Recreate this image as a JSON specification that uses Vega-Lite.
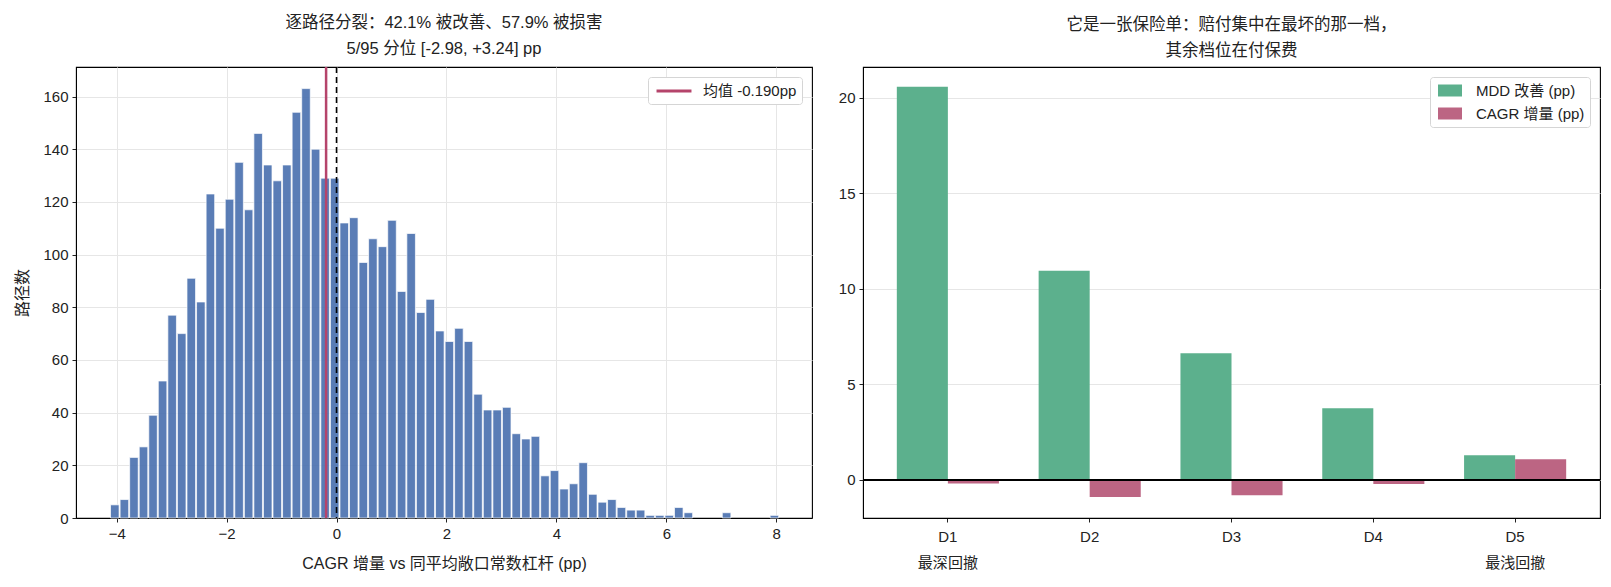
{
  "$schema": "https://vega.github.io/schema/vega-lite/v6.json",
  "description": "Per-path CAGR delta histogram and drawdown-decile insurance bars",
  "padding": {"left": 14, "top": 14, "right": 8, "bottom": 0},
  "spacing": 24,
  "datasets": {
    "hist": [
      {"bin_start": -4.130, "bin_end": -3.956, "count": 5},
      {"bin_start": -3.956, "bin_end": -3.782, "count": 7},
      {"bin_start": -3.782, "bin_end": -3.608, "count": 23},
      {"bin_start": -3.608, "bin_end": -3.434, "count": 27},
      {"bin_start": -3.434, "bin_end": -3.261, "count": 39},
      {"bin_start": -3.261, "bin_end": -3.087, "count": 52},
      {"bin_start": -3.087, "bin_end": -2.913, "count": 77},
      {"bin_start": -2.913, "bin_end": -2.739, "count": 70},
      {"bin_start": -2.739, "bin_end": -2.565, "count": 91},
      {"bin_start": -2.565, "bin_end": -2.391, "count": 82},
      {"bin_start": -2.391, "bin_end": -2.217, "count": 123},
      {"bin_start": -2.217, "bin_end": -2.043, "count": 110},
      {"bin_start": -2.043, "bin_end": -1.869, "count": 121},
      {"bin_start": -1.869, "bin_end": -1.695, "count": 135},
      {"bin_start": -1.695, "bin_end": -1.522, "count": 117},
      {"bin_start": -1.522, "bin_end": -1.348, "count": 146},
      {"bin_start": -1.348, "bin_end": -1.174, "count": 134},
      {"bin_start": -1.174, "bin_end": -1.000, "count": 128},
      {"bin_start": -1.000, "bin_end": -0.826, "count": 134},
      {"bin_start": -0.826, "bin_end": -0.652, "count": 154},
      {"bin_start": -0.652, "bin_end": -0.478, "count": 163},
      {"bin_start": -0.478, "bin_end": -0.304, "count": 140},
      {"bin_start": -0.304, "bin_end": -0.130, "count": 129},
      {"bin_start": -0.130, "bin_end": 0.044, "count": 129},
      {"bin_start": 0.044, "bin_end": 0.218, "count": 112},
      {"bin_start": 0.218, "bin_end": 0.391, "count": 114},
      {"bin_start": 0.391, "bin_end": 0.565, "count": 97},
      {"bin_start": 0.565, "bin_end": 0.739, "count": 106},
      {"bin_start": 0.739, "bin_end": 0.913, "count": 103},
      {"bin_start": 0.913, "bin_end": 1.087, "count": 113},
      {"bin_start": 1.087, "bin_end": 1.261, "count": 86},
      {"bin_start": 1.261, "bin_end": 1.435, "count": 108},
      {"bin_start": 1.435, "bin_end": 1.609, "count": 78},
      {"bin_start": 1.609, "bin_end": 1.783, "count": 83},
      {"bin_start": 1.783, "bin_end": 1.957, "count": 71},
      {"bin_start": 1.957, "bin_end": 2.130, "count": 67},
      {"bin_start": 2.130, "bin_end": 2.304, "count": 72},
      {"bin_start": 2.304, "bin_end": 2.478, "count": 67},
      {"bin_start": 2.478, "bin_end": 2.652, "count": 47},
      {"bin_start": 2.652, "bin_end": 2.826, "count": 41},
      {"bin_start": 2.826, "bin_end": 3.000, "count": 41},
      {"bin_start": 3.000, "bin_end": 3.174, "count": 42},
      {"bin_start": 3.174, "bin_end": 3.348, "count": 32},
      {"bin_start": 3.348, "bin_end": 3.522, "count": 30},
      {"bin_start": 3.522, "bin_end": 3.696, "count": 31},
      {"bin_start": 3.696, "bin_end": 3.870, "count": 16},
      {"bin_start": 3.870, "bin_end": 4.043, "count": 18},
      {"bin_start": 4.043, "bin_end": 4.217, "count": 11},
      {"bin_start": 4.217, "bin_end": 4.391, "count": 13},
      {"bin_start": 4.391, "bin_end": 4.565, "count": 21},
      {"bin_start": 4.565, "bin_end": 4.739, "count": 9},
      {"bin_start": 4.739, "bin_end": 4.913, "count": 6},
      {"bin_start": 4.913, "bin_end": 5.087, "count": 7},
      {"bin_start": 5.087, "bin_end": 5.261, "count": 4},
      {"bin_start": 5.261, "bin_end": 5.435, "count": 3},
      {"bin_start": 5.435, "bin_end": 5.609, "count": 3},
      {"bin_start": 5.609, "bin_end": 5.783, "count": 1},
      {"bin_start": 5.783, "bin_end": 5.957, "count": 1},
      {"bin_start": 5.957, "bin_end": 6.130, "count": 1},
      {"bin_start": 6.130, "bin_end": 6.304, "count": 4},
      {"bin_start": 6.304, "bin_end": 6.478, "count": 2},
      {"bin_start": 7.000, "bin_end": 7.174, "count": 2},
      {"bin_start": 7.870, "bin_end": 8.043, "count": 1}
    ],
    "mean": [{"value": -0.19, "label": "均值 -0.190pp"}],
    "zero": [{"value": 0}],
    "deciles": [
      {"decile": "D1", "series": "MDD 改善 (pp)", "value": 20.59},
      {"decile": "D1", "series": "CAGR 增量 (pp)", "value": -0.19},
      {"decile": "D2", "series": "MDD 改善 (pp)", "value": 10.95},
      {"decile": "D2", "series": "CAGR 增量 (pp)", "value": -0.89},
      {"decile": "D3", "series": "MDD 改善 (pp)", "value": 6.64},
      {"decile": "D3", "series": "CAGR 增量 (pp)", "value": -0.80},
      {"decile": "D4", "series": "MDD 改善 (pp)", "value": 3.76},
      {"decile": "D4", "series": "CAGR 增量 (pp)", "value": -0.21},
      {"decile": "D5", "series": "MDD 改善 (pp)", "value": 1.29},
      {"decile": "D5", "series": "CAGR 增量 (pp)", "value": 1.08}
    ]
  },
  "hconcat": [
    {
      "title": {"text": ["逐路径分裂：42.1% 被改善、57.9% 被损害", "5/95 分位 [-2.98, +3.24] pp"]},
      "width": 736,
      "height": 451,
      "layer": [
        {
          "data": {"name": "hist"},
          "mark": {"type": "bar", "fill": "#4C72B0", "fillOpacity": 0.92, "stroke": "#ffffff", "strokeWidth": 0.7},
          "encoding": {
            "x": {"field": "bin_start", "type": "quantitative", "bin": "binned",
              "scale": {"domain": [-4.74, 8.65], "nice": false, "zero": false},
              "axis": {"values": [-4, -2, 0, 2, 4, 6, 8], "format": "d", "grid": true, "title": "CAGR 增量 vs 同平均敞口常数杠杆 (pp)", "titlePadding": 14}},
            "x2": {"field": "bin_end"},
            "y": {"field": "count", "type": "quantitative",
              "scale": {"domain": [0, 171.2], "nice": false},
              "axis": {"values": [0, 20, 40, 60, 80, 100, 120, 140, 160], "grid": true, "title": "路径数", "titlePadding": 12}}
          }
        },
        {
          "data": {"name": "mean"},
          "mark": {"type": "rule", "strokeWidth": 2.5},
          "encoding": {
            "x": {"field": "value", "type": "quantitative", "title": "CAGR 增量 vs 同平均敞口常数杠杆 (pp)"},
            "color": {"field": "label", "type": "nominal",
              "scale": {"range": ["#B5446B"]},
              "legend": {"title": null, "orient": "top-right", "offset": 10, "padding": 5,
                "symbolType": "M-0.73,0H3.93", "symbolSize": 225, "symbolStrokeWidth": 2.8, "labelOffset": 32}}
          }
        },
        {
          "data": {"name": "zero"},
          "mark": {"type": "rule", "color": "#000000", "strokeWidth": 1.6, "strokeDash": [6, 4]},
          "encoding": {
            "x": {"field": "value", "type": "quantitative", "title": "CAGR 增量 vs 同平均敞口常数杠杆 (pp)"}
          }
        }
      ]
    },
    {
      "title": {"text": ["它是一张保险单：赔付集中在最坏的那一档，", "其余档位在付保费"]},
      "width": 737,
      "height": 451,
      "layer": [
        {
          "data": {"name": "deciles"},
          "mark": {"type": "bar"},
          "encoding": {
            "x": {"field": "decile", "type": "nominal", "sort": ["D1", "D2", "D3", "D4", "D5"],
              "scale": {"paddingInner": 0.28, "paddingOuter": 0.2385},
              "axis": {"title": null, "labelAngle": 0, "grid": false, "labelPadding": 7, "labelLineHeight": 26,
                "labelExpr": "datum.value == 'D1' ? ['D1', '最深回撤'] : datum.value == 'D5' ? ['D5', '最浅回撤'] : datum.value"}},
            "xOffset": {"field": "series", "type": "nominal", "sort": ["MDD 改善 (pp)", "CAGR 增量 (pp)"],
              "scale": {"paddingInner": 0, "paddingOuter": 0}},
            "y": {"field": "value", "type": "quantitative",
              "scale": {"domain": [-1.99, 21.62], "nice": false, "zero": false},
              "axis": {"values": [0, 5, 10, 15, 20], "grid": true, "title": null}},
            "color": {"field": "series", "type": "nominal",
              "scale": {"domain": ["MDD 改善 (pp)", "CAGR 增量 (pp)"], "range": ["#5CB08D", "#BC6583"]},
              "legend": {"title": null, "orient": "top-right", "offset": 10, "padding": 5,
                "symbolType": "M-0.73,-0.8H2.47V0.8H-0.73Z", "symbolSize": 225, "labelOffset": 24, "rowPadding": 6}}
          }
        },
        {
          "data": {"name": "zero"},
          "mark": {"type": "rule", "color": "#000000", "strokeWidth": 2},
          "encoding": {
            "y": {"field": "value", "type": "quantitative"}
          }
        }
      ]
    }
  ],
  "resolve": {"scale": {"color": "independent"}},
  "config": {
    "font": "Liberation Sans, Noto Sans CJK SC",
    "view": {"stroke": "#000000", "strokeWidth": 1.1},
    "axis": {
      "labelFont": "Liberation Sans, Noto Sans CJK SC",
      "titleFont": "Liberation Sans, Noto Sans CJK SC",
      "labelFontSize": 15,
      "titleFontSize": 16,
      "titleFontWeight": "normal",
      "labelColor": "#222222",
      "titleColor": "#222222",
      "tickColor": "#222222",
      "domainColor": "#000000",
      "tickSize": 4,
      "labelPadding": 4,
      "gridColor": "#e6e6e6"
    },
    "title": {"font": "Liberation Sans, Noto Sans CJK SC", "fontSize": 16.5, "fontWeight": "normal", "lineHeight": 26, "color": "#222222", "offset": 8, "anchor": "middle"},
    "legend": {
      "labelFont": "Liberation Sans, Noto Sans CJK SC",
      "labelFontSize": 15,
      "labelColor": "#222222",
      "strokeColor": "#d5d5d5",
      "fillColor": "#ffffff",
      "cornerRadius": 3
    }
  }
}
